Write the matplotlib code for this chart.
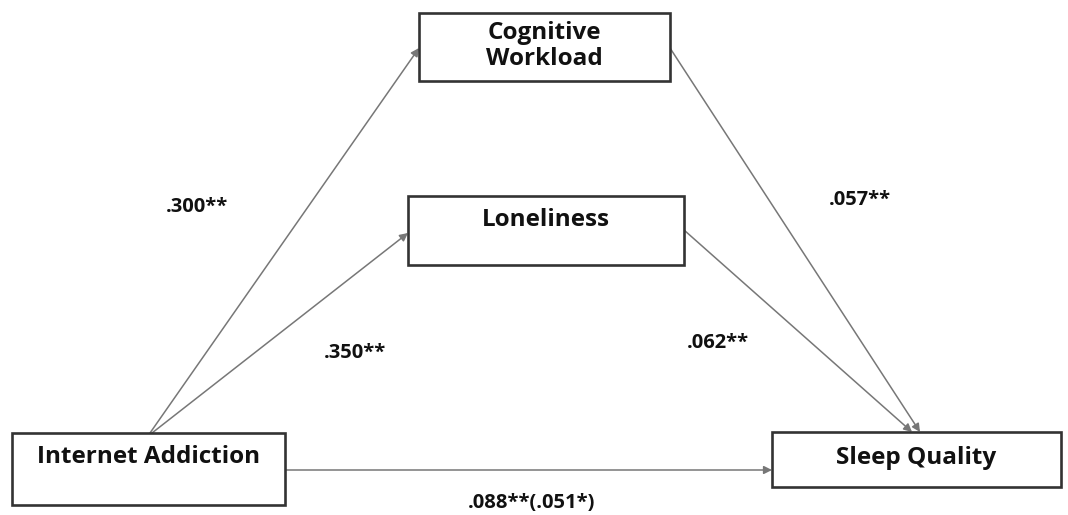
import matplotlib
matplotlib.use("Agg")
import matplotlib.pyplot as plt
from matplotlib.patches import Rectangle, FancyArrowPatch

# Nodes: name -> (x0, y0, x1, y1) in pixel space (y down)
node_names = ["Cognitive\nWorkload", "Loneliness", "Internet Addiction", "Sleep Quality"]
node_boxes = [(419, 13, 670, 81), (408, 196, 684, 265), (12, 433, 285, 505), (772, 432, 1061, 487)]
node_text_y = [46, 220, 457, 458]

# Paths: (start, end) and coefficient labels
path_starts = [(150, 433), (152, 433), (670, 48), (684, 230), (285, 470)]
path_ends = [(419, 48), (408, 233), (920, 432), (912, 432), (772, 470)]
coef_labels = [".300**", ".350**", ".057**", ".062**", ".088**(.051*)"]
coef_pos = [(197, 207), (355, 353), (860, 200), (718, 343), (532, 503)]

fig = plt.figure(figsize=(10.68, 5.15), dpi=100)
ax = fig.add_axes([0, 0, 1, 1])
ax.set_xlim(0, 1068)
ax.set_ylim(515, 0)
ax.axis("off")

font = "Open Sans"

for (x0, y0, x1, y1) in node_boxes:
    ax.add_patch(Rectangle((x0, y0), x1 - x0, y1 - y0, fill=True, facecolor="white",
                           edgecolor="#333333", linewidth=1.9, zorder=2))

for name, (x0, y0, x1, y1), ty in zip(node_names, node_boxes, node_text_y):
    ax.text((x0 + x1) / 2, ty, name, ha="center", va="center", fontsize=17.5,
            fontweight="bold", family=font, color="#111111", linespacing=1.1, zorder=3)

for s, e in zip(path_starts, path_ends):
    ax.add_patch(FancyArrowPatch(s, e, arrowstyle="-|>", mutation_scale=12,
                                 color="#777777", linewidth=1.1, shrinkA=0, shrinkB=0, zorder=1))

for lab, (x, y) in zip(coef_labels, coef_pos):
    ax.text(x, y, lab, ha="center", va="center", fontsize=14.5, fontweight="bold",
            family=font, color="#111111")

fig.savefig("out.png", dpi=100)
